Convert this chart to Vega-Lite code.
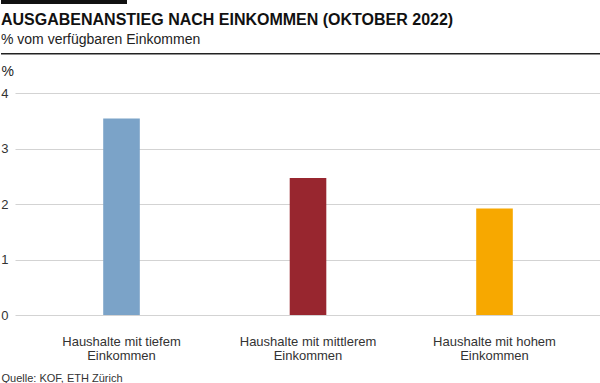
{
  "$schema": "https://vega.github.io/schema/vega-lite/v6.json",
  "padding": 0,
  "background": "white",
  "spacing": 8,
  "config": {"view": {"stroke": null}, "font": "Liberation Sans"},
  "vconcat": [
    {
      "width": 126,
      "height": 4,
      "view": {"fill": "#111111", "stroke": null},
      "data": {"values": []},
      "mark": {"type": "point"},
      "encoding": {}
    },
    {
      "spacing": 9,
      "vconcat": [
        {
          "width": 600,
          "height": 1.5,
          "view": {"fill": "#222222", "stroke": null},
          "title": {
            "text": "AUSGABENANSTIEG NACH EINKOMMEN (OKTOBER 2022)",
            "subtitle": "% vom verfügbaren Einkommen",
            "anchor": "start",
            "font": "Liberation Sans",
            "fontSize": 16,
            "fontWeight": "bold",
            "color": "#111111",
            "subtitleFont": "Liberation Sans",
            "subtitleFontSize": 14,
            "subtitleColor": "#222222",
            "subtitlePadding": 5,
            "offset": 6
          },
          "data": {"values": []},
          "mark": {"type": "point"},
          "encoding": {}
        },
        {
          "width": 600,
          "height": 222,
          "data": {
            "values": [
              {"gruppe": "Haushalte mit tiefem|Einkommen", "wert": 3.54},
              {"gruppe": "Haushalte mit mittlerem|Einkommen", "wert": 2.47},
              {"gruppe": "Haushalte mit hohem|Einkommen", "wert": 1.92}
            ]
          },
          "mark": {"type": "bar", "width": 36.6},
          "encoding": {
            "x": {
              "field": "gruppe",
              "type": "nominal",
              "sort": null,
              "scale": {"paddingInner": 0, "paddingOuter": 0.1086, "align": 0.673},
              "axis": {
                "title": "Quelle: KOF, ETH Zürich",
                "titleFont": "Liberation Sans",
                "titleFontSize": 11,
                "titleFontWeight": "normal",
                "titleColor": "#333333",
                "titleAnchor": "start",
                "titleAlign": "left",
                "titleBaseline": "alphabetic",
                "titleX": 0,
                "titleY": 66,
                "labelExpr": "split(datum.label, '|')",
                "labelAngle": 0,
                "labelFontSize": 13,
                "labelColor": "#333333",
                "labelLineHeight": 14,
                "labelPadding": 20,
                "ticks": false,
                "domain": false,
                "grid": false
              }
            },
            "y": {
              "field": "wert",
              "type": "quantitative",
              "scale": {"domain": [0, 4]},
              "axis": {
                "values": [0, 1, 2, 3, 4],
                "offset": -600,
                "zindex": 0,
                "title": "%",
                "titleAngle": 0,
                "titleAlign": "left",
                "titleBaseline": "alphabetic",
                "titleX": -600,
                "titleY": -18,
                "titleFontSize": 14,
                "titleFontWeight": "normal",
                "titleColor": "#222222",
                "labelFontSize": 13,
                "labelColor": "#333333",
                "labelPadding": 7,
                "ticks": true,
                "tickSize": 586,
                "tickColor": "#d3d3d3",
                "tickWidth": 1,
                "domain": false,
                "grid": false
              }
            },
            "color": {
              "field": "gruppe",
              "type": "nominal",
              "scale": {
                "domain": ["Haushalte mit tiefem|Einkommen", "Haushalte mit mittlerem|Einkommen", "Haushalte mit hohem|Einkommen"],
                "range": ["#7ba3c8", "#98262f", "#f7a800"]
              },
              "legend": null
            }
          }
        }
      ]
    }
  ]
}
